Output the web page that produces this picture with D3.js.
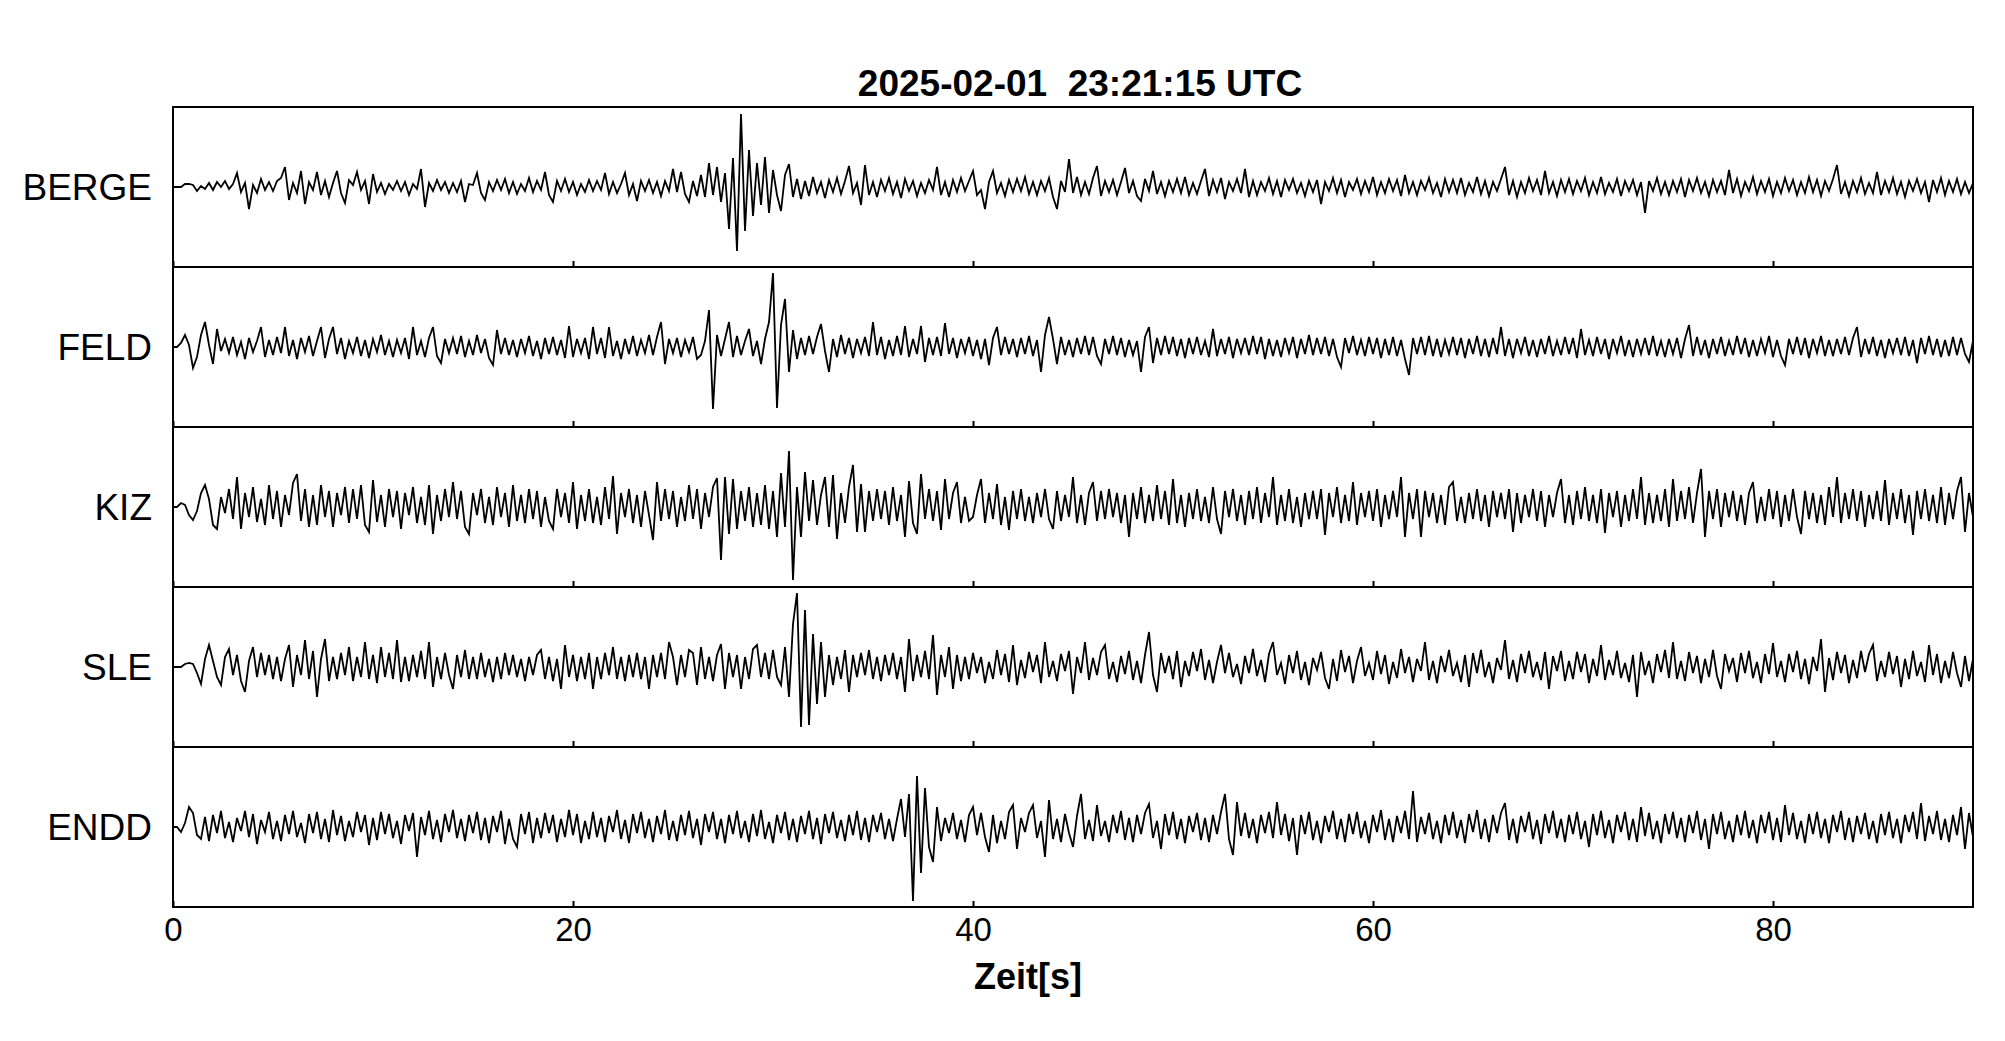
<!DOCTYPE html>
<html><head><meta charset="utf-8">
<script src="https://cdn.jsdelivr.net/npm/d3@7"></script>
<style>body{margin:0;background:#fff;} svg{display:block;font-family:"Liberation Sans",Arial,Helvetica,sans-serif;}</style>
</head><body><svg id="chart" width="2005" height="1041"></svg>
<script>
const stations = ["BERGE", "FELD", "KIZ", "SLE", "ENDD"];
const sampleInterval = 0.2; // seconds between samples
const timeTicks = [0, 20, 40, 60, 80];
const titleText = "2025-02-01  23:21:15 UTC";
const xLabelText = "Zeit[s]";

// amplitudes (relative units, up positive), one sample per 0.2 s, 0..90 s
const berge = [
0,0,0,3,3, 2,-4,1,-2,4,
-3,5,0,6,-2, 3,14,-5,4,-22,
2,-6,8,-3,5, -4,6,9,20,-13,
4,-6,16,-17,5, -3,15,-8,6,-10,
4,16,-6,-16,7, 2,15,-3,6,-17,
13,-5,4,-7,3, -3,6,-4,5,-8,
3,-2,18,-20,4, -4,7,-3,5,-6,
4,-5,6,-15,3, 2,14,-6,-13,5,
-4,7,-3,8,-6, 5,-7,3,-4,9,
-5,6,-3,15,-8, -15,6,-4,8,-5,
5,-8,3,-5,7, -4,6,-3,14,-7,
5,-6,3,14,-8, 3,-14,6,-4,7,
-6,5,-9,6,-4, 18,-5,15,-7,-15,
6,-9,12,-10,24, -8,20,-15,14,-42,
29,-64,73,-44,37, -29,24,-18,30,-26,
17,-8,-24,12,23, -10,8,-12,6,-9,
10,-6,5,-11,7, -5,9,-7,6,21,
-6,4,-18,22,-8, 5,-10,7,-4,9,
-7,5,-11,8,-4, 6,-9,4,-6,7,
-3,20,-8,5,-10, 7,-5,9,-4,6,
16,-8,-3,-22,5, 16,-6,4,-9,7,
-5,8,-4,10,-7, 5,-8,6,-4,9,
-10,-22,6,-5,28, -6,10,-8,5,-7,
9,21,-9,6,-5, 7,-8,5,19,-6,
6,-9,-14,8,-4, 16,-7,5,-9,6,
-5,8,-6,10,-8, 4,-7,6,18,-9,
7,-5,9,-12,5, -4,8,-6,18,-10,
6,-8,5,-4,9, -7,6,-10,7,-3,
8,-6,4,-9,6, -5,7,-17,5,-4,
9,-6,7,-10,5, -3,8,-7,6,-5,
10,-8,5,-6,8, -4,7,-9,12,-6,
5,-8,6,-3,9, -6,4,-10,8,-5,
7,-6,9,-8,4, -5,10,-7,6,-9,
5,-4,8,20,-8, 6,-10,5,-6,9,
-4,7,-8,16,-6, 5,-9,7,-5,8,
-7,6,-4,9,-8, 5,-6,10,-7,4,
-5,8,-9,6,-4, 7,-8,5,-26,6,
-4,9,-7,5,-8, 6,-5,8,-10,7,
-4,9,-6,5,-9, 7,-5,6,-8,17,
-6,8,-9,5,-4, 10,-7,6,-5,8,
-9,5,-6,9,-4, 7,-8,5,-6,10,
-5,7,-9,6,-4, 8,22,-7,5,-9,
6,-5,9,-7,4, -6,15,-8,6,-5,
9,-7,5,-10,6, -4,8,-6,5,-15,
7,-5,9,-8,6, -5,8,-7,5,-6,
4];

const feld = [
0,0,4,12,2, -21,-10,12,25,2,
-17,18,-4,8,-6, 10,-8,5,-12,9,
-5,6,20,-10,7, -8,10,-6,20,-9,
7,-12,9,-5,11, -9,6,20,-11,8,
20,-7,9,-12,6, -6,10,-9,7,-11,
8,-5,12,-8,6, -10,7,-6,9,-12,
20,-8,6,-10,9, 20,-9,-16,8,-6,
9,-7,11,-10,6, -8,12,-6,8,-11,
-18,17,-7,9,-8, 7,-10,8,-6,11,
-9,6,-12,9,-7, 10,-8,7,-11,21,
-10,8,-6,9,-12, 20,-7,9,-11,20,
-9,6,-12,8,-7, 11,-9,7,-6,12,
-8,10,25,-17,8, -6,9,-10,7,-5,
10,-12,-8,6,37, -62,12,-9,8,25,
-10,11,-8,6,18, -9,6,-17,8,25,
74,-61,22,48,-25, 17,-12,9,-8,11,
-7,10,23,-4,-25, 8,-10,12,-7,9,
-11,8,-6,10,-9, 25,-8,10,-12,7,
-9,11,-8,21,-10, 8,-7,21,-15,9,
-8,10,-9,24,-7, 9,-11,8,-6,10,
-9,7,-12,8,-18, 9,20,-8,10,-7,
8,-10,9,-7,11, -9,7,-25,12,30,
8,-17,10,-8,7, -10,9,-7,11,-8,
10,-9,-17,8,-7, 11,-8,9,-10,7,
-8,6,-25,10,20, -16,9,-8,11,-7,
10,-9,8,-11,9, -7,10,-8,6,-10,
18,-9,8,-7,10, -11,8,-6,9,-8,
11,-7,10,-12,8, -9,7,-10,9,-6,
10,-11,8,-7,12, -8,9,-7,10,-9,
8,-10,-20,9,-6, 11,-8,7,-9,10,
-7,9,-11,8,-8, 10,-9,7,-12,-28,
9,-7,10,-8,11, -9,8,-10,7,-7,
10,-8,9,-11,8, -7,11,-9,8,-10,
9,-7,20,-9,8, -11,8,-6,10,-9,
7,-10,8,-7,11, -9,6,-8,10,-7,
9,-11,18,-8,7, -9,10,-7,8,-12,
8,-6,11,-9,7, -10,8,-7,9,-8,
11,-9,6,-10,8, -7,9,-11,8,22,
-9,10,-8,7,-11, 8,-7,10,-9,6,
-8,11,-7,9,-10, 7,-9,8,-6,11,
-10,7,-9,-18,8, -7,10,-8,9,-11,
8,-6,11,-9,7, -9,8,-7,10,-8,
9,20,-10,8,-7, 10,-9,7,-11,8,
-6,9,-8,10,-9, 7,-16,9,-7,11,
-8,8,-10,7,-9, 10,-8,9,-7,-15,
6];

const kiz = [
0,0,4,2,-8, -13,-4,14,22,8,
-18,-22,10,-6,18, -12,30,-22,14,-10,
20,-15,8,-18,22, -12,16,-20,12,-8,
24,33,-14,18,-20, 12,-18,22,-10,16,
-20,14,-8,20,-16, 18,-12,22,-18,-25,
27,-15,12,-20,18, -10,16,-22,14,-8,
20,-16,10,-18,22, -27,12,-14,18,-10,
25,-12,16,-20,-27, 14,-8,18,-16,10,
-18,20,-10,14,-20, 22,-14,12,-16,18,
-12,16,-20,10,-14, -22,18,-10,14,-16,
25,-22,12,-14,18, -16,10,-18,20,-12,
31,-27,14,-10,18, -16,12,-20,16,-8,
-33,25,-14,18,-12, 16,-20,10,-14,22,
-12,18,-22,14,-10, 20,29,-53,30,-27,
28,-22,16,-14,20, -20,14,-18,22,-22,
16,-30,34,-20,56, -73,20,-30,35,-14,
27,-18,12,30,-20, 32,-32,14,-16,20,
42,-25,23,-25,16, -14,18,-12,16,-18,
20,-14,12,-30,26, -16,-27,33,-12,18,
-14,16,-23,28,-12, 14,25,-16,10,-14,
-10,12,28,-16,14, -12,23,-18,10,-23,
16,-12,18,-14,10, -16,14,-10,18,-12,
-22,16,-14,12,-10, 30,-16,12,-18,14,
25,-14,16,-12,18, -10,14,-16,12,-30,
14,-12,20,-16,12, -14,22,-12,16,-18,
28,-16,12,-20,14, -12,18,-14,10,-16,
20,-12,-27,16,-10, 18,-14,12,-18,16,
-12,20,-16,14,-10, 30,-18,12,-14,18,
-16,10,-20,14,-12, 16,-12,18,-28,14,
-10,20,-16,12,-14, 25,-18,14,-10,16,
-14,18,-20,12,-12, 16,-10,30,-30,14,
-12,18,-30,16,-10, 14,-16,12,-18,20,
25,-14,10,-16,14, -12,18,-14,12,-20,
16,-10,14,-12,18, -25,14,-16,12,-10,
18,-14,16,-20,12, -10,14,28,-16,12,
-18,16,-12,20,-14, 12,-16,18,-26,14,
-10,16,-20,12,-14, 18,-12,30,-18,14,
-16,12,-14,18,-20, 28,-14,16,-12,20,
-16,14,38,-30,16, -12,18,-20,14,-10,
16,-14,12,-18,14, 25,-16,10,-14,18,
-12,16,-20,12,-14, 18,-10,-27,16,-12,
14,-16,12,-18,20, -10,30,-16,14,-12,
18,-14,16,-20,12, -12,16,-14,27,-18,
14,-12,18,-16,12, -28,16,-12,18,-14,
12,-16,20,-18,14, -12,16,30,-25,14,
-10];

const sle = [
0,0,0,3,4, 3,-6,-17,8,22,
6,-10,-18,10,18, -8,12,-14,-25,6,
20,-10,14,-8,12, -12,10,-14,8,22,
-20,12,-8,27,-12, 16,-30,8,28,-14,
10,-12,14,-8,20, -14,10,-10,25,-12,
12,-16,20,-10,14, -12,27,-15,10,-14,
12,-10,16,-12,25, -20,10,-12,14,-8,
-22,12,-10,17,-12, 10,-12,14,-10,8,
-15,10,-12,14,-8, 12,-10,8,-14,10,
-8,12,17,-12,10, -14,8,-22,22,-10,
12,-14,10,-12,14, -22,10,-12,14,-8,
20,-12,10,-14,12, -10,14,-12,10,-22,
12,-10,14,-12,25, 10,-18,12,-10,17,
14,-18,20,-12,10, -14,12,23,-22,14,
-10,12,-22,10,-12, 18,22,-10,14,-12,
17,-10,-18,20,-30, 43,74,-60,57,-58,
33,-37,25,-30,12, -18,10,-12,17,-25,
12,-10,14,-8,17, -12,10,-14,12,-8,
14,-12,10,-25,28, -14,12,-10,16,-12,
32,-28,12,-10,20, -22,12,-14,10,-12,
14,-6,10,-16,5, -12,17,-8,13,-15,
22,-18,7,-11,15, -5,12,-16,25,-10,
6,-14,13,-4,16, -27,10,-6,25,-13,
9,-8,15,22,-12, 5,-15,11,-7,16,
-13,6,-16,12,35, -8,-25,14,-6,11,
-12,16,-20,6,-9, 15,-4,18,-13,7,
-16,5,22,-6,14, -10,3,-17,11,-6,
18,-9,7,-15,13, 25,-8,4,-17,12,
-6,16,-13,5,-18, 9,-3,15,-11,-22,
8,-14,17,-5,11, -16,6,20,-9,4,
-13,16,-7,12,-17, 5,-11,18,-6,10,
-15,8,-4,25,-13, 6,-16,11,-5,17,
-9,4,-15,12,-20, 14,-6,17,-10,5,
-16,9,-3,27,-12, 7,-15,13,-6,16,
-10,5,-13,15,-22, 11,-4,16,-14,6,
-12,15,-5,13,-16, 8,-9,22,-13,7,
-8,16,-11,4,-15, 12,-30,15,-8,6,
-16,13,-5,17,-11, 25,-12,6,-14,15,
-6,11,-16,8,-10, 17,-9,-22,13,-4,
9,-15,14,-6,16, -11,5,-16,13,-7,
24,-10,6,-15,13, -5,16,-12,8,-17,
10,-4,28,-25,9, -13,15,-6,12,-16,
7,-11,16,-5,13, 22,-14,6,-10,15,
-7,11,-20,8,-12, 16,-9,5,-15,22,
-8,13,-16,6,-11, 15,-6,-20,11,-14,
8];

const endd = [
0,0,-5,4,20, 14,-8,-12,10,-14,
12,-6,16,-11,5, -15,9,-4,16,-10,
13,-17,7,-5,15, -12,6,-14,12,-7,
16,-10,4,-16,13, -6,15,-12,8,-15,
17,-8,11,-14,6, -10,15,-5,12,-18,
9,-13,15,-7,13, -11,6,-17,12,-4,
14,-30,10,-8,16, -12,7,-15,13,-5,
17,-11,8,-14,12, -6,15,-13,9,-16,
11,-5,16,-17,8, -12,-20,13,-7,15,
-16,9,-11,14,-6, 12,-15,8,-10,17,
-8,13,-16,6,-12, 15,-10,9,-15,11,
-5,17,-12,7,-16, 13,-6,15,-11,8,
-15,11,-7,17,-13, 6,-14,12,-8,16,
-11,8,-18,13,-5, 15,-12,8,-16,12,
-7,16,-11,6,-15, 13,-9,17,-12,5,
-16,12,-6,15,-13, 8,-15,11,-7,16,
-12,9,-17,13,-6, 15,-11,7,-14,12,
-8,16,-13,9,-15, 12,-5,14,-12,8,
-14,8,28,-10,33, -74,51,-46,39,-20,
-35,20,-14,9,-6, 14,-12,7,-15,12,
20,-8,14,-10,-25, 12,-16,6,-12,15,
22,-22,9,-5,14, 22,-11,6,-30,27,
-12,8,-15,13,-6, -20,11,33,-12,7,
-14,22,-9,6,-15, 12,-6,16,-13,9,
-15,12,-7,14,23, -11,6,-22,13,-8,
15,-12,8,-16,11, -5,14,-13,9,-15,
12,-7,15,33,-12, -28,25,-9,14,-11,
8,-16,12,-6,15, -11,25,-8,13,-14,
9,-28,12,-7,15, -13,6,-16,11,-5,
16,-12,8,-15,13, -7,15,-11,6,-16,
12,-5,17,-13,8, -15,11,-6,16,-12,
36,-15,10,-7,14, -12,6,-16,12,-8,
15,-11,7,-16,13, -5,17,-12,8,-15,
12,-6,14,24,-13, 8,-16,11,-5,15,
-12,7,-17,13,-6, 16,-11,8,-15,12,
-7,15,-12,6,-20, 13,-8,16,-11,7,
-16,12,-5,15,-13, 8,-15,20,-9,14,
-12,6,-16,13,-7, 15,-11,9,-15,12,
-6,16,-13,8,-22, 13,-7,15,-12,6,
-15,12,-8,16,-11, 7,-16,12,-6,15,
-13,9,-15,22,-8, 14,-12,6,-16,13,
-7,15,-11,8,-16, 12,-5,16,-13,9,
-15,11,-7,14,-12, 6,-16,13,-8,15,
-11,8,-16,12,-5, 15,-12,24,-14,11,
-7,16,-13,8,-15, 12,-8,20,-22,14,
-10];

const traces = [berge, feld, kiz, sle, endd];

const W = 2005, H = 1041;
const plotLeft = 173, plotRight = 1973, plotTop = 107, panelH = 160;
const svg = d3.select("#chart");
svg.append("rect").attr("width", W).attr("height", H).attr("fill", "#fff");

const x = d3.scaleLinear().domain([0, 90]).range([plotLeft, plotRight]);

stations.forEach((name, k) => {
  const y0 = plotTop + k * panelH;
  const y = d3.scaleLinear().domain([-80, 80]).range([y0 + panelH, y0]);
  const clipId = "clip" + k;
  svg.append("clipPath").attr("id", clipId).append("rect")
    .attr("x", plotLeft).attr("y", y0).attr("width", plotRight - plotLeft).attr("height", panelH);
  const line = d3.line().x((d, i) => x(i * sampleInterval)).y(d => y(d));
  svg.append("path").datum(traces[k])
    .attr("clip-path", `url(#${clipId})`)
    .attr("d", line).attr("fill", "none").attr("stroke", "#000")
    .attr("stroke-width", 1.8).attr("stroke-linejoin", "miter");

  const ax = d3.axisBottom(x).tickValues(timeTicks).tickSize(-6).tickPadding(11)
    .tickFormat(k === stations.length - 1 ? d3.format("d") : () => "");
  const g = svg.append("g").attr("transform", `translate(0,${y0 + panelH})`).call(ax);
  g.select(".domain").remove();
  g.attr("font-size", 33).attr("font-family", '"Liberation Sans",Arial,sans-serif');
  g.selectAll(".tick line").attr("stroke", "#000").attr("stroke-width", 2);
  g.selectAll(".tick text").attr("fill", "#000");

  svg.append("rect").attr("x", plotLeft).attr("y", y0).attr("width", plotRight - plotLeft).attr("height", panelH)
    .attr("fill", "none").attr("stroke", "#000").attr("stroke-width", 2);

  svg.append("text").attr("x", 152).attr("y", y0 + panelH / 2).attr("dy", "0.36em")
    .attr("text-anchor", "end").attr("font-size", 37).attr("fill", "#000").text(name);
});

svg.append("text").attr("x", 1080).attr("y", 96).attr("text-anchor", "middle")
  .style("white-space", "pre").attr("xml:space", "preserve")
  .attr("font-size", 37).attr("font-weight", "bold").attr("fill", "#000").text(titleText);
svg.append("text").attr("x", 1028).attr("y", 989).attr("text-anchor", "middle")
  .attr("font-size", 36).attr("font-weight", "bold").attr("fill", "#000").text(xLabelText);
</script></body></html>
